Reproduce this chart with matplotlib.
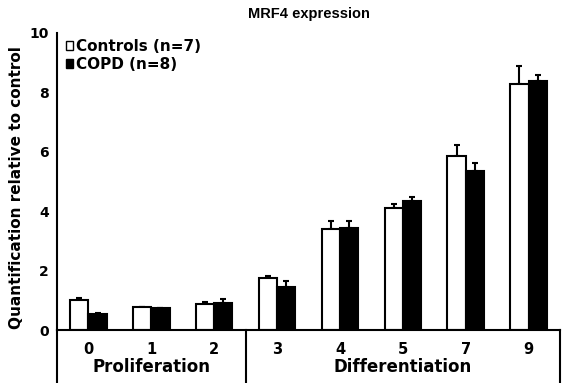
import matplotlib.pyplot as plt
import matplotlib.transforms as mtransforms
import numpy as np

plt.rcParams['font.family'] = ['DejaVu Sans']
plt.rcParams['font.weight'] = 'bold'

days = ['0', '1', '2', '3', '4', '5', '7', '9']
controls = [1.0, 0.76, 0.875, 1.75, 3.39, 4.1, 5.87, 8.27]
controls_err = [0.09, 0.02, 0.06, 0.06, 0.29, 0.15, 0.37, 0.63]
copd = [0.55, 0.73, 0.92, 1.44, 3.43, 4.35, 5.37, 8.37]
copd_err = [0.02, 0.02, 0.11, 0.2, 0.23, 0.14, 0.24, 0.21]
phases = ['Proliferation', 'Differentiation']

fig = plt.figure(figsize=(5.67, 3.83), dpi=100)
ax = fig.add_axes([57 / 567, 53 / 383, 503 / 567, 297 / 383])

x = np.arange(len(days))
w = 0.29
ax.bar(x - w / 2, controls, w, color='white', edgecolor='black', linewidth=1.5,
       label='Controls (n=7)', zorder=2)
ax.bar(x + w / 2, copd, w, color='black', edgecolor='black', linewidth=1.5,
       label='COPD (n=8)', zorder=2)
ax.errorbar(x - w / 2, controls, yerr=[np.zeros(len(x)), controls_err], fmt='none',
            ecolor='black', elinewidth=1.5, capsize=2.5, capthick=1.5, zorder=1)
ax.errorbar(x + w / 2, copd, yerr=[np.zeros(len(x)), copd_err], fmt='none',
            ecolor='black', elinewidth=1.5, capsize=2.5, capthick=1.5, zorder=1)

ax.set_xlim(-0.5, len(days) - 0.5)
ax.set_ylim(0, 10)
ax.set_yticks([0, 2, 4, 6, 8, 10])
ax.set_xticks(x)
ax.set_xticklabels(days)
ax.tick_params(axis='y', length=0, labelsize=10, pad=6)
ax.tick_params(axis='x', length=0, labelsize=10.5, pad=9)
for lab in ax.get_xticklabels() + ax.get_yticklabels():
    lab.set_fontweight('bold')

ax.spines['top'].set_visible(False)
ax.spines['right'].set_visible(False)
ax.spines['left'].set_linewidth(1.5)
ax.spines['bottom'].set_linewidth(1.5)

# group separators below the axis
trans = mtransforms.blended_transform_factory(ax.transData, ax.transAxes)
for xv in [-0.5, 2.5, 7.5]:
    ax.plot([xv, xv], [0, -0.18], color='black', linewidth=1.5,
            transform=trans, clip_on=False)
ax.text(1, -0.125, phases[0], transform=trans, ha='center', va='center',
        fontsize=12, fontweight='bold')
ax.text(5, -0.125, phases[1], transform=trans, ha='center', va='center',
        fontsize=12, fontweight='bold')

ax.set_ylabel('Quantification relative to control', fontsize=11,
              fontweight='bold')
ax.yaxis.set_label_coords(-0.066, 0.48)
ax.set_title('MRF4 expression', fontsize=10.5, fontweight='bold', pad=11,
             family='Liberation Sans')

leg = ax.legend(loc='upper left', frameon=False, fontsize=11,
                handlelength=0.5, handleheight=0.5, handletextpad=0.15,
                labelspacing=0.2, borderaxespad=0.0, bbox_to_anchor=(0.005, 1.0))
for t in leg.get_texts():
    t.set_fontweight('bold')
for h in leg.legend_handles:
    h.set_linewidth(1)

fig.savefig('out.png', dpi=100)
